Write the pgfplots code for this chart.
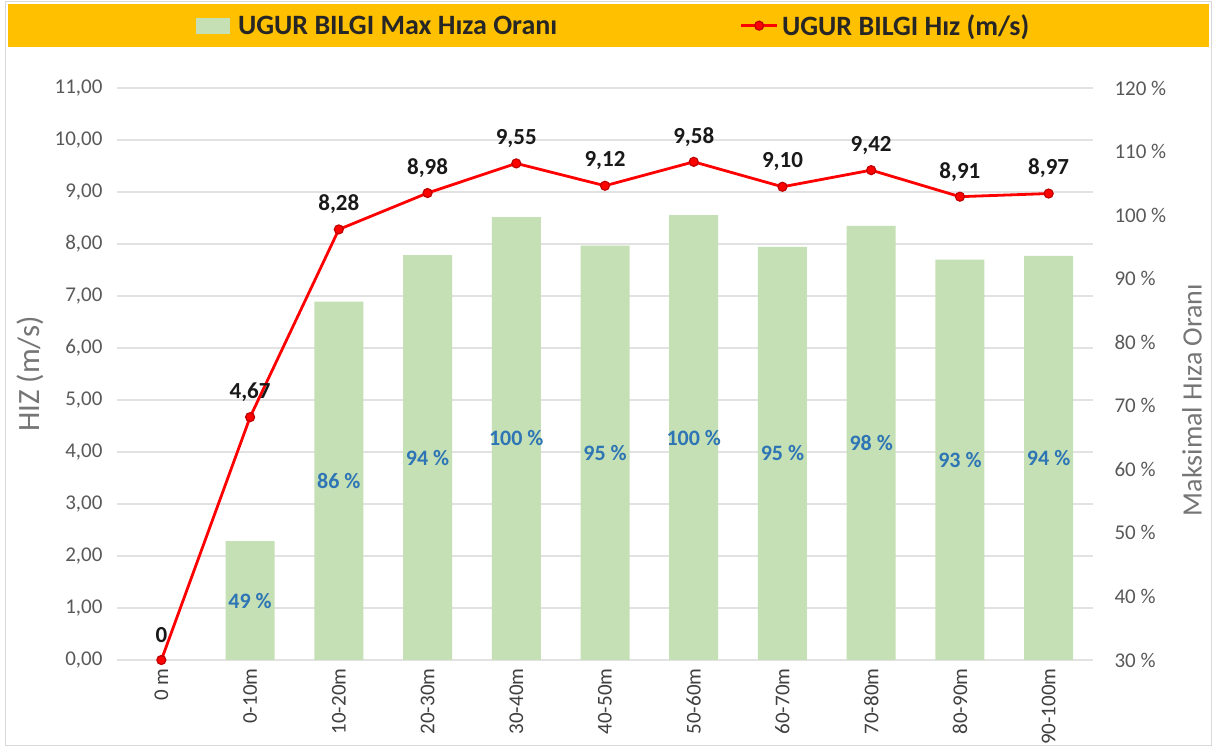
\documentclass[border=0pt]{standalone}
\usepackage{pgfplots}
\pgfplotsset{compat=1.18}
\usepackage{pgfplotstable}
\usepackage{fontspec}
\setmainfont{Carlito}
\definecolor{band}{HTML}{FFC000}
\definecolor{barg}{HTML}{C5E0B4}
\definecolor{gridc}{HTML}{E2E2E2}
\definecolor{tickc}{HTML}{595959}
\definecolor{xtickc}{HTML}{404040}
\definecolor{titlec}{HTML}{767676}
\definecolor{lblblue}{HTML}{2E75B6}
\definecolor{linered}{HTML}{FF0000}
\definecolor{framec}{HTML}{D9D9D9}

\pgfplotstableread{
x v lab
0 0 0
1 4.67 4,67
2 8.28 8,28
3 8.98 8,98
4 9.55 9,55
5 9.12 9,12
6 9.58 9,58
7 9.10 9,10
8 9.42 9,42
9 8.91 8,91
10 8.97 8,97
}\speed

\pgfplotstableread{
x r
1 48.7
2 86.4
3 93.7
4 99.7
5 95.2
6 100.0
7 95.0
8 98.3
9 93.0
10 93.6
}\ratio

\pgfplotsset{
  base/.style={
    scale only axis, width=976pt, height=572pt,
    at={(117pt,89pt)}, anchor=south west,
    xmin=-0.5, xmax=10.5,
    axis line style={draw=none},
    major tick length=0pt,
    tick style={draw=none},
    /pgf/number format/assume math mode=true,
  }
}

\begin{document}
\begin{tikzpicture}[x=1pt,y=1pt]
\useasboundingbox (0,0) rectangle (1215,749);
\fill[white] (0,0) rectangle (1215,749);
\draw[framec, line width=1pt] (5,3) rectangle (1211,747);
\fill[band] (8,702) rectangle (1209,745);

% grid
\begin{axis}[base, ymin=0, ymax=11, ytick={0,1,...,11}, ymajorgrids,
  grid style={gridc, line width=1.2pt}, yticklabels={}, xtick=\empty]
\addplot[draw=none] coordinates {(0,0)};
\end{axis}

% bars (right axis)
\begin{axis}[base, ymin=30, ymax=120, ytick={30,40,...,120},
  yticklabel pos=right, xtick=\empty,
  yticklabel={\pgfmathprintnumber{\tick} \%},
  yticklabel style={font=\fontsize{21}{25}\selectfont, text=tickc, xshift=18pt},
  ylabel={Maksimal Hıza Oranı},
  every axis y label/.style={at={(axis description cs:1.1014,0.4545)}, rotate=90, anchor=center,
    font=\fontsize{28}{32}\selectfont, text=titlec},
]
\addplot[ybar, bar width=49pt, fill=barg, draw=none] table[x=x, y=r] {\ratio};
\addplot[draw=none, mark=none,
  nodes near coords={\pgfmathprintnumber[fixed,precision=0]{\pgfplotspointmeta} \%},
  point meta=explicit,
  every node near coord/.style={anchor=center, font=\fontsize{22}{26}\selectfont\bfseries, text=lblblue}]
  table[x=x, y expr={(\thisrow{r}+30)/2}, meta=r] {\ratio};
\end{axis}

% line (left axis)
\begin{axis}[base, ymin=0, ymax=11, ytick={0,1,...,11}, clip=false,
  yticklabel style={/pgf/number format/.cd, fixed, fixed zerofill, precision=2, use comma, /tikz/.cd,
    font=\fontsize{21}{25}\selectfont, text=tickc, xshift=-11pt},
  xtick={0,1,...,10},
  xticklabels={0 m,0-10m,10-20m,20-30m,30-40m,40-50m,50-60m,60-70m,70-80m,80-90m,90-100m},
  xticklabel style={rotate=90, anchor=east, font=\fontsize{21}{25}\selectfont, text=xtickc, xshift=-5pt},
  ylabel={HIZ (m/s)},
  every axis y label/.style={at={(axis description cs:-0.0891,0.5)}, rotate=90, anchor=center,
    font=\fontsize{31}{34}\selectfont, text=titlec},
  legend columns=2,
  legend style={at={(axis description cs:0.5097,1.109)}, anchor=center, draw=none, fill=none,
    font=\fontsize{28}{31}\selectfont\bfseries, text=black!85,
    nodes={inner xsep=3.5pt, inner ysep=0pt},
    /tikz/every even column/.append style={column sep=179pt}},
]
\addlegendimage{legend image code/.code={\fill[barg] (0pt,-7.5pt) rectangle (33pt,7.5pt); \path (38pt,0pt);}}
\addlegendentry{UGUR BILGI Max Hıza Oranı}
\addplot[linered, line width=2.8pt, mark=*, mark size=4.5pt,
  mark options={fill=linered, draw=red!75!black, line width=1.2pt},
  legend image code/.code={\draw[linered, line width=2.8pt, mark=*, mark size=4.5pt,
    mark options={fill=linered, draw=red!75!black, line width=1.2pt},
    mark repeat=2, mark phase=2] plot coordinates {(0pt,0pt) (18pt,0pt) (36pt,0pt)};},
  nodes near coords, point meta=explicit symbolic,
  every node near coord/.style={anchor=center, yshift=25pt, font=\fontsize{23}{27}\selectfont\bfseries, text=black!90}]
  table[x=x, y=v, meta=lab] {\speed};
\addlegendentry{UGUR BILGI Hız (m/s)}
\end{axis}
\end{tikzpicture}
\end{document}
